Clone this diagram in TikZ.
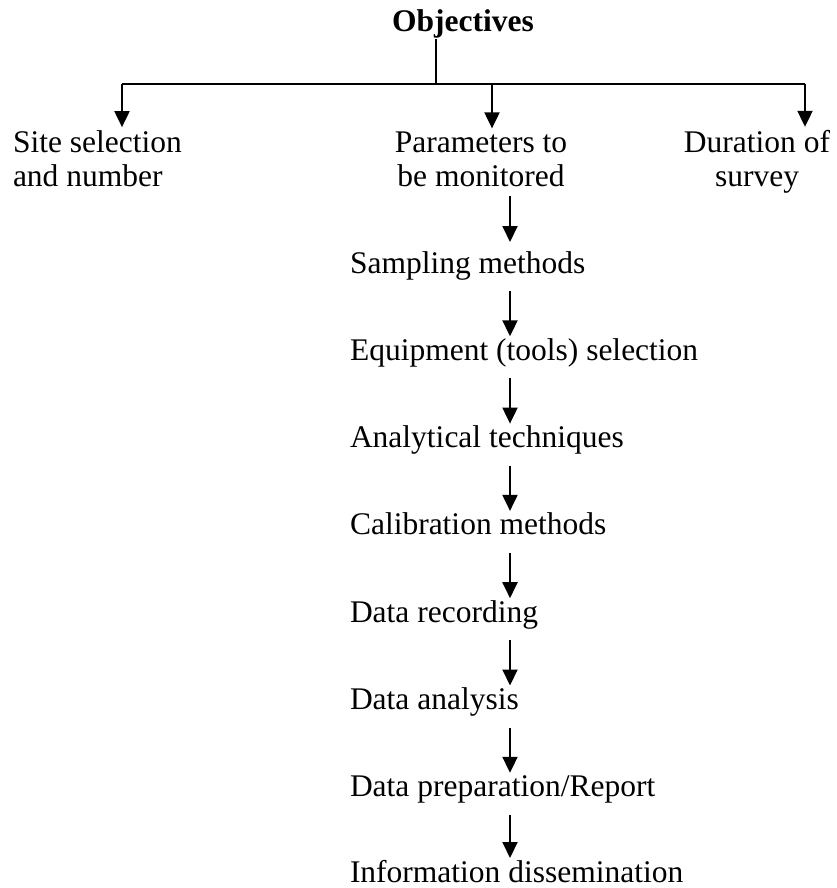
\documentclass[tikz,border=0pt]{standalone}
\usepackage{fontspec}
\setmainfont{Liberation Serif}
\usetikzlibrary{arrows.meta}
\begin{document}
\begin{tikzpicture}[x=1pt,y=1pt,
  lbl/.style={font=\fontsize{31.5}{34}\selectfont, inner sep=0pt, outer sep=0pt},
  item/.style={lbl, anchor=base west, text height=22pt, text depth=7pt},
  conn/.style={line width=2pt},
  arr/.style={conn, -{Triangle[length=16pt,width=15pt]}},
  flow/.style={arr, shorten <=11pt, shorten >=2pt},
]
\useasboundingbox (0,0) rectangle (837,-888);
% title
\node[lbl, font=\fontsize{31.5}{34}\selectfont\bfseries, anchor=base] (obj) at (463,-32) {Objectives};
% first level (anchor base = baseline of the last line)
\node[lbl, align=left, anchor=base west] (site) at (13,-186) {Site selection\\and number};
\node[lbl, align=center, anchor=base] (params) at (481,-186) {Parameters to\\be monitored};
\node[lbl, align=center, anchor=base] (dur) at (757,-186) {Duration of\\survey};
% bus
\coordinate (j) at (436,-84);
\coordinate (bl) at (122,-84);
\coordinate (bm) at (492,-84);
\coordinate (br) at (805,-84);
\draw[conn] (obj.south -| j) -- (j);
\draw[conn] (bl) -- (br);
\draw[arr, shorten >=3pt] (bl) -- (bl |- site.north);
\draw[arr, shorten >=3pt] (bm) -- (bm |- params.north);
\draw[arr, shorten >=3pt] (br) -- (br |- dur.north);
% chain
\coordinate (cx) at (510,0);
\node[item] (s1) at (350,-273) {Sampling methods};
\node[item] (s2) at (350,-360.3) {Equipment (tools) selection};
\node[item] (s3) at (350,-447.6) {Analytical techniques};
\node[item] (s4) at (350,-534.9) {Calibration methods};
\node[item] (s5) at (350,-622.2) {Data recording};
\node[item] (s6) at (350,-709.5) {Data analysis};
\node[item] (s7) at (350,-796.8) {Data preparation/Report};
\node[item, text depth=0pt] (s8) at (350,-882) {Information dissemination};
\draw[arr, shorten <=10pt, shorten >=9pt] (params.south -| cx) -- (s1.north -| cx);
\foreach \a/\b in {s1/s2,s2/s3,s3/s4,s4/s5,s5/s6,s6/s7,s7/s8}
  \draw[flow] (\a.south -| cx) -- (\b.north -| cx);
\end{tikzpicture}
\end{document}
